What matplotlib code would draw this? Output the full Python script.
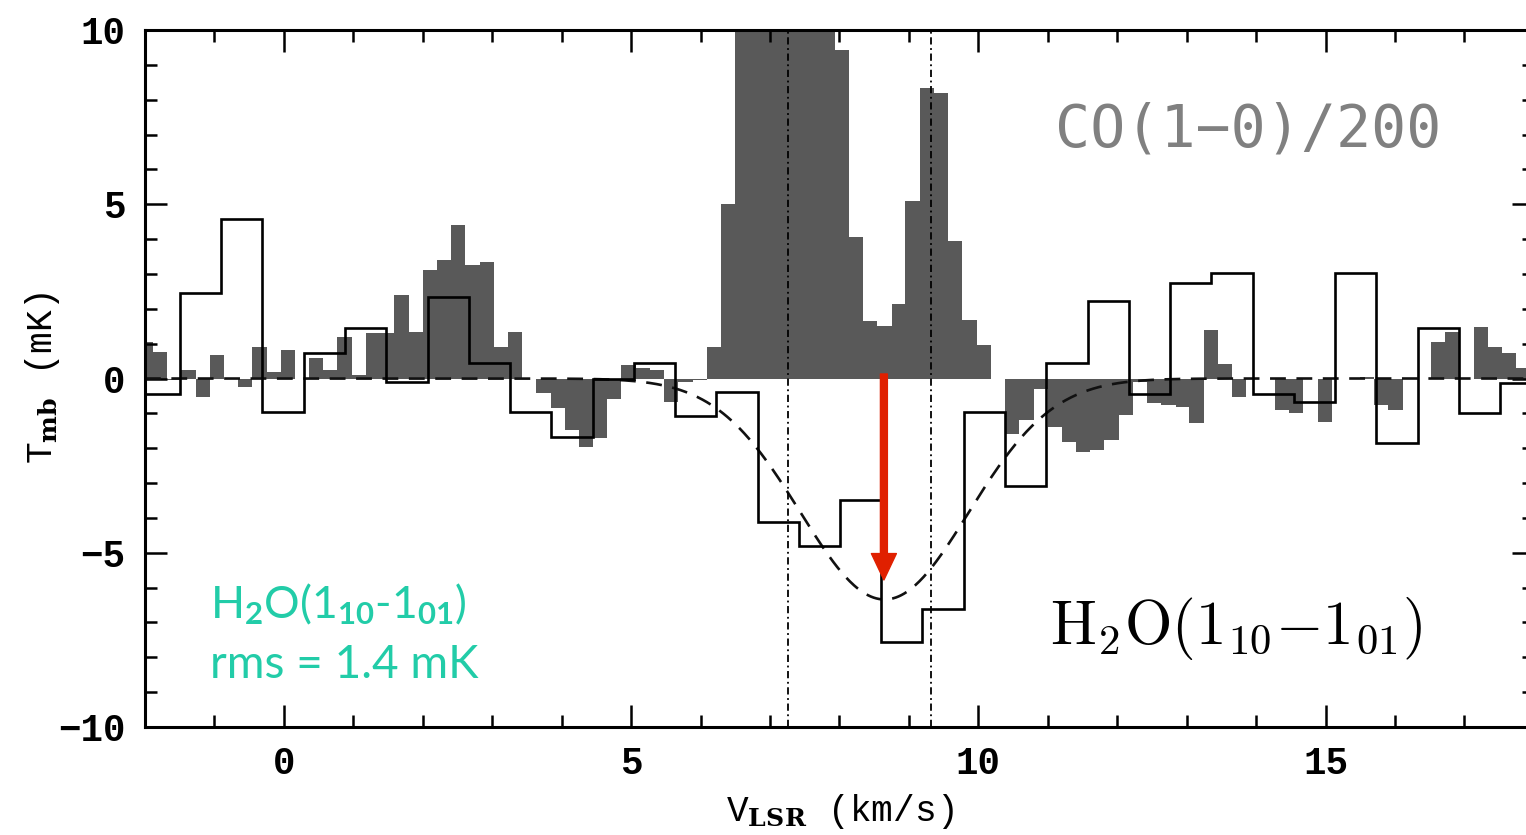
import numpy as np
import matplotlib
matplotlib.use("Agg")
import matplotlib.pyplot as plt
from matplotlib.ticker import MultipleLocator

# ---------------------------
# Data
# ---------------------------

# H2O(1_10-1_01) spectrum, channel centres (km/s) and Tmb (mK)
h2o_vel = [-1.79, -1.20, -0.61, -0.01, 0.58, 1.18, 1.77, 2.37, 2.96, 3.55,
           4.15, 4.74, 5.34, 5.93, 6.52, 7.12, 7.71, 8.31, 8.90, 9.49,
           10.09, 10.68, 11.28, 11.87, 12.46, 13.06, 13.65, 14.25, 14.84, 15.43,
           16.03, 16.62, 17.22, 17.81]
h2o_tmb = [-0.45, 2.46, 4.57, -0.95, 0.72, 1.45, -0.10, 2.33, 0.44, -0.95,
           -1.69, 0.00, 0.44, -1.08, -0.38, -4.11, -4.81, -3.50, -7.55, -6.60,
           -0.95, -3.07, 0.45, 2.23, -0.45, 2.75, 3.04, -0.45, -0.66, 3.04,
           -1.86, 1.44, -0.98, -0.14]

# CO(1-0) spectrum divided by 200, channel centres (km/s) and Tmb (mK)
co_vel = [-1.99, -1.78, -1.58, -1.37, -1.17, -0.97, -0.76, -0.56, -0.35, -0.15,
          0.06, 0.26, 0.47, 0.67, 0.87, 1.08, 1.28, 1.49, 1.69, 1.90,
          2.10, 2.31, 2.51, 2.72, 2.92, 3.12, 3.33, 3.53, 3.74, 3.94,
          4.15, 4.35, 4.56, 4.76, 4.96, 5.17, 5.37, 5.58, 5.78, 5.99,
          6.19, 6.40, 6.60, 6.81, 7.01, 7.21, 7.42, 7.62, 7.83, 8.03,
          8.24, 8.44, 8.65, 8.85, 9.05, 9.26, 9.46, 9.67, 9.87, 10.08,
          10.28, 10.49, 10.69, 10.90, 11.10, 11.30, 11.51, 11.71, 11.92, 12.12,
          12.33, 12.53, 12.74, 12.94, 13.14, 13.35, 13.55, 13.76, 13.96, 14.17,
          14.37, 14.58, 14.78, 14.99, 15.19, 15.39, 15.60, 15.80, 16.01, 16.21,
          16.42, 16.62, 16.83, 17.03, 17.23, 17.44, 17.64, 17.85]
co_tmb = [1.06, 0.77, -0.05, 0.24, -0.52, 0.67, 0.00, -0.24, 0.91, 0.20,
          0.82, 0.00, 0.59, 0.24, 1.20, 0.10, 1.30, 1.30, 2.40, 1.34,
          3.10, 3.40, 4.40, 3.25, 3.35, 0.91, 1.34, 0.00, -0.43, -0.86,
          -1.48, -1.96, -1.72, -0.60, 0.40, 0.30, 0.24, -0.66, -0.10, -0.05,
          0.91, 5.00, 13.0, 16.0, 18.0, 17.0, 15.0, 13.0, 11.0, 9.43,
          4.05, 1.66, 1.51, 2.14, 5.10, 8.33, 8.18, 3.95, 1.68, 0.96,
          0.00, -1.60, -1.20, -0.30, -1.39, -1.82, -2.10, -2.05, -1.76, -1.05,
          -0.10, -0.71, -0.76, -0.81, -1.29, 1.39, 0.43, -0.52, 0.00, 0.00,
          -0.90, -1.00, 0.00, -1.24, 0.00, 0.00, 0.05, -0.76, -0.90, 0.00,
          0.00, 1.05, 1.34, 0.00, 1.47, 0.91, 0.72, 0.29]

# Gaussian fit to the H2O absorption
fit_amp = -6.34
fit_v0 = 8.65
fit_fwhm = 2.85

# velocity range of interest and absorption peak
vrange = [7.26, 9.32]
peak_v = 8.64
peak_from, peak_to = 0.13, -5.78


def edges_from_centres(c):
    c = np.asarray(c)
    d = np.diff(c).mean()
    mid = (c[1:] + c[:-1]) / 2
    return np.concatenate([[c[0] - d / 2], mid, [c[-1] + d / 2]])


# ---------------------------
# Plot
# ---------------------------

plt.rcParams['font.family'] = 'Liberation Mono'
plt.rcParams['font.weight'] = 'bold'
plt.rcParams['axes.unicode_minus'] = True
plt.rcParams['mathtext.fontset'] = 'custom'
plt.rcParams['mathtext.rm'] = 'Lato'
plt.rcParams['mathtext.it'] = 'Lato:italic'
plt.rcParams['mathtext.bf'] = 'Lato:bold'

fig = plt.figure(figsize=(15.26, 8.35), dpi=100)
# right edge of the frame (v=18) sits just outside the picture, as in the original
ax = fig.add_axes([0.0950, 0.1293, 0.9102, 0.8348])

ax.stairs(co_tmb, edges_from_centres(co_vel), fill=True, baseline=0,
          color='#595959', lw=0, zorder=1)

v = np.linspace(-2, 18, 1000)
gauss = fit_amp * np.exp(-4 * np.log(2) * (v - fit_v0) ** 2 / fit_fwhm ** 2)
ax.plot(v, gauss, color='#111111', lw=1.9, ls=(0, (6, 4)), zorder=2)

ax.stairs(h2o_tmb, edges_from_centres(h2o_vel), baseline=None,
          color='black', lw=1.9, zorder=3)

for vv in vrange:
    ax.axvline(vv, color='black', lw=1.3, ls=(0, (4, 2, 1, 2)), zorder=4)

ax.annotate('', xy=(peak_v, peak_to), xytext=(peak_v, peak_from),
            arrowprops=dict(facecolor='#e02000', edgecolor='#e02000',
                            width=5, headwidth=18, headlength=19, shrink=0),
            zorder=5)

ax.set_xlim(-2, 18)
ax.set_ylim(-10, 10)
ax.xaxis.set_major_locator(MultipleLocator(5))
ax.xaxis.set_minor_locator(MultipleLocator(1))
ax.yaxis.set_major_locator(MultipleLocator(5))
ax.yaxis.set_minor_locator(MultipleLocator(1))
ax.tick_params(which='both', direction='in', top=True, right=True, width=1.8)
ax.tick_params(which='major', length=16, labelsize=27)
ax.tick_params(which='minor', length=8.5)
ax.tick_params(axis='x', which='major', pad=14)
ax.tick_params(axis='y', which='major', pad=14)
for s in ax.spines.values():
    s.set_linewidth(2.2)

ax.set_xlabel(r'V$_{\mathbf{LSR}}$ (km/s)', fontsize=26, labelpad=7,
              math_fontfamily='dejavuserif')
ax.set_ylabel(r'T$_{\mathbf{mb}}$ (mK)', fontsize=26,
              math_fontfamily='dejavuserif')
ax.yaxis.set_label_coords(-0.060, 0.5)

ax.text(11.10, 7.13, 'CO(1\u22120)/200', color='#808080', fontsize=42,
        family='DejaVu Sans Mono', weight='normal', ha='left', va='center')
ax.text(11.03, -7.62, r'$\mathrm{H_2O(1_{10}{-}1_{01})}$', color='black',
        fontsize=44, math_fontfamily='cm', weight='normal',
        ha='left', va='baseline')

ax.text(-1.06, -6.87, r'H$_2$O(1$_{10}$-1$_{01}$)', color='#22cca8',
        fontsize=32, family='Lato', weight='normal', math_fontfamily='custom',
        ha='left', va='baseline')
ax.text(-1.06, -8.59, 'rms = 1.4 mK', color='#22cca8',
        fontsize=33, family='Lato', weight='normal', ha='left', va='baseline')

fig.savefig('out.png', dpi=100)
